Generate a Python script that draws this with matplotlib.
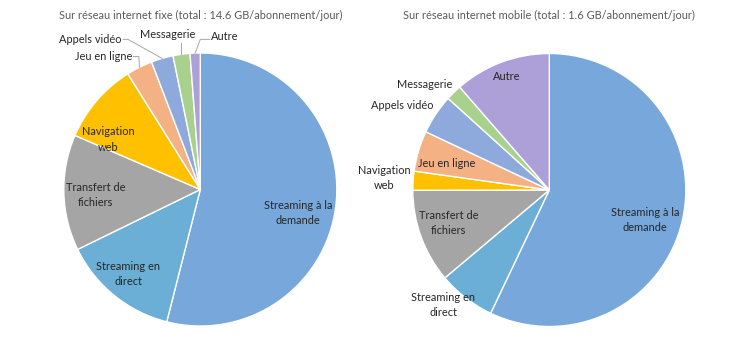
import matplotlib
matplotlib.use("Agg")
import matplotlib.pyplot as plt
import numpy as np

plt.rcParams['font.family'] = ['Lato', 'DejaVu Sans']

categories = ["Streaming à la\ndemande", "Streaming en\ndirect", "Transfert de\nfichiers",
              "Navigation\nweb", "Jeu en ligne", "Appels vidéo", "Messagerie", "Autre"]
fixe_values = [53.9, 13.8, 13.7, 9.6, 3.1, 2.6, 2.0, 1.2]
mobile_values = [57.1, 6.8, 11.1, 2.25, 4.8, 4.7, 1.9, 11.4]
titles = ["Sur réseau internet fixe (total : 14.6 GB/abonnement/jour)",
          "Sur réseau internet mobile (total : 1.6 GB/abonnement/jour)"]
colors = ["#77A7DB", "#6BAED6", "#A5A5A5", "#FFC000", "#F4B183", "#8EA9DB", "#A9D18E", "#ADA0D8"]

W, H = 754, 357
fig = plt.figure(figsize=(W / 100, H / 100), dpi=100)

R = 136.5
centers = [(200.3, 189.5), (549.3, 190.0)]
txt = "#262626"
fs = 7.9

# label positions in pie units (radius = 1)
left_pos = [(0.716, -0.172), (-0.529, -0.618), (-0.767, -0.042), (-0.674, 0.368),
            (-0.50, 0.974), (-0.575, 1.10), (-0.24, 1.132), (0.08, 1.12)]
left_ha = ["center", "center", "center", "center", "right", "right", "center", "left"]
right_pos = [(0.702, -0.219), (-0.776, -0.844), (-0.740, -0.240), (-1.208, 0.088),
             (-0.752, 0.196), (-1.079, 0.618), (-0.916, 0.772), (-0.311, 0.833)]

axes = []
for i, (cx, cy) in enumerate(centers):
    ax = fig.add_axes([(cx - R) / W, (H - cy - R) / H, 2 * R / W, 2 * R / H])
    vals = fixe_values if i == 0 else mobile_values
    ax.pie(vals, colors=colors, startangle=90, counterclock=False, radius=1,
           wedgeprops=dict(edgecolor="white", linewidth=1.0))
    ax.set_xlim(-1, 1)
    ax.set_ylim(-1, 1)
    ax.set_aspect("auto")
    ax.axis("off")
    axes.append(ax)

# titles
fig.text(200.3 / W, 1 - 15 / H, titles[0], ha="center", va="center", fontsize=fs, color="#595959")
fig.text(549.0 / W, 1 - 15 / H, titles[1], ha="center", va="center", fontsize=fs, color="#595959")

# left labels
ax = axes[0]
for k, (lab, (x, y), ha) in enumerate(zip(categories, left_pos, left_ha)):
    ax.text(x, y, lab, ha=ha, va="center", fontsize=fs, color=txt, linespacing=1.5,
            clip_on=False)

# leader lines for small wedges (left)
cum = np.cumsum([0] + fixe_values)
tot = cum[-1]
def edge_point(idx, values_cum, r=1.0):
    mid = (values_cum[idx] + values_cum[idx + 1]) / 2 / tot * 360
    ang = np.deg2rad(90 - mid)
    return r * np.cos(ang), r * np.sin(ang)

lc = "#A6A6A6"
# Jeu en ligne
ex, ey = edge_point(4, cum)
ax.plot([-0.49, -0.45, ex], [0.974, 0.974, ey], color=lc, lw=0.7, clip_on=False)
# Appels vidéo
ex, ey = edge_point(5, cum)
ax.plot([-0.565, -0.53, ex], [1.10, 1.10, ey], color=lc, lw=0.7, clip_on=False)
# Messagerie
ex, ey = edge_point(6, cum)
ax.plot([ex, ex], [1.07, ey], color=lc, lw=0.7, clip_on=False)
# Autre
ex, ey = edge_point(7, cum)
ax.plot([0.07, 0.0, ex], [1.10, 1.10, ey], color=lc, lw=0.7, clip_on=False)

# right labels
ax = axes[1]
for lab, (x, y) in zip(categories, right_pos):
    ax.text(x, y, lab, ha="center", va="center", fontsize=fs, color=txt, linespacing=1.5,
            clip_on=False)

fig.savefig("out.png", dpi=100, facecolor="white")
